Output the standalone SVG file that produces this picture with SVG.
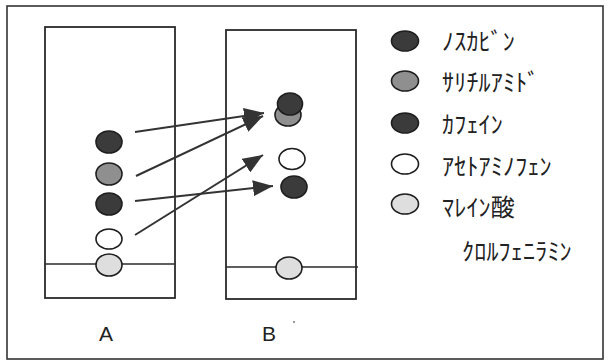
<svg xmlns="http://www.w3.org/2000/svg" width="609" height="363" viewBox="0 0 609 363">
  <style>
    .frame { fill: none; stroke: #333; stroke-width: 1.6; }
    .plate { fill: #fff; stroke: #2a2a2a; stroke-width: 1.8; }
    .origin { stroke: #2a2a2a; stroke-width: 1.6; }
    .spot { stroke: #1e1e1e; stroke-width: 1.6; }
    .dark { fill: #3b3b3b; }
    .mid { fill: #8f8f8f; }
    .white { fill: #ffffff; }
    .light { fill: #dedede; }
    .arrow { stroke: #333; stroke-width: 2; fill: none; marker-end: url(#head); }
    .kana { font-family: "Noto Sans CJK JP", "Noto Sans", sans-serif; font-size: 24px; fill: #222; letter-spacing: 0.2px; }
    .lane { font-family: "Liberation Sans", Arial, sans-serif; font-size: 21px; fill: #222; text-anchor: middle; }
  </style>
  <defs>
    <marker id="head" viewBox="0 0 20 16" refX="20" refY="8" markerWidth="20" markerHeight="16" markerUnits="userSpaceOnUse" orient="auto">
      <path d="M0,0 L20,8 L0,16 Z" fill="#333"/>
    </marker>
  </defs>

  <rect width="609" height="363" fill="#fff"/>
  <rect class="frame" x="7" y="6" width="596" height="353"/>

  <!-- plate A -->
  <g id="plate-a">
    <rect class="plate" x="45" y="27" width="130" height="271"/>
    <line class="origin" x1="45" y1="264" x2="175" y2="264"/>
    <ellipse class="spot dark" cx="109" cy="142" rx="13" ry="11"/>
    <ellipse class="spot mid" cx="109" cy="174" rx="13" ry="11"/>
    <ellipse class="spot dark" cx="109" cy="204" rx="13" ry="11"/>
    <ellipse class="spot white" cx="109" cy="239" rx="13" ry="10"/>
    <ellipse class="spot light" cx="109" cy="265" rx="13" ry="11"/>
  </g>

  <!-- plate B -->
  <g id="plate-b">
    <rect class="plate" x="226" y="30" width="130" height="269"/>
    <line class="origin" x1="226" y1="267" x2="358" y2="267"/>
    <ellipse class="spot mid" cx="288" cy="115" rx="13" ry="11"/>
    <ellipse class="spot dark" cx="290" cy="104" rx="12.5" ry="11"/>
    <ellipse class="spot white" cx="292" cy="159" rx="13" ry="10.5"/>
    <ellipse class="spot dark" cx="294" cy="187" rx="13" ry="11"/>
    <ellipse class="spot light" cx="289" cy="268" rx="13" ry="11"/>
  </g>

  <!-- migration arrows from A to B -->
  <g id="connectors">
    <line class="arrow" x1="135" y1="132" x2="264" y2="113"/>
    <line class="arrow" x1="136" y1="176" x2="263" y2="116"/>
    <line class="arrow" x1="135" y1="201" x2="273" y2="186"/>
    <line class="arrow" x1="135" y1="235" x2="263" y2="155"/>
  </g>

  <!-- lane labels -->
  <g id="labels">
    <text class="lane" x="106" y="341">A</text>
    <text class="lane" x="269" y="341">B</text>
    <circle cx="294" cy="322" r="1" fill="#777"/>
  </g>

  <!-- legend -->
  <g id="legend">
    <ellipse class="spot dark" cx="405" cy="41" rx="13.5" ry="10"/>
    <text class="kana" x="442" y="50">ﾉｽｶﾋﾞﾝ</text>
    <ellipse class="spot mid" cx="405" cy="81" rx="13.5" ry="10"/>
    <text class="kana" x="442" y="91">ｻﾘﾁﾙｱﾐﾄﾞ</text>
    <ellipse class="spot dark" cx="405" cy="123" rx="13.5" ry="10"/>
    <text class="kana" x="442" y="133">ｶﾌｪｲﾝ</text>
    <ellipse class="spot white" cx="405" cy="164" rx="13.5" ry="10"/>
    <text class="kana" x="442" y="175">ｱｾﾄｱﾐﾉﾌｪﾝ</text>
    <ellipse class="spot light" cx="405" cy="204" rx="13.5" ry="10"/>
    <text class="kana" x="442" y="216">ﾏﾚｲﾝ酸</text>
    <text class="kana" x="462" y="260">ｸﾛﾙﾌｪﾆﾗﾐﾝ</text>
  </g>
</svg>
